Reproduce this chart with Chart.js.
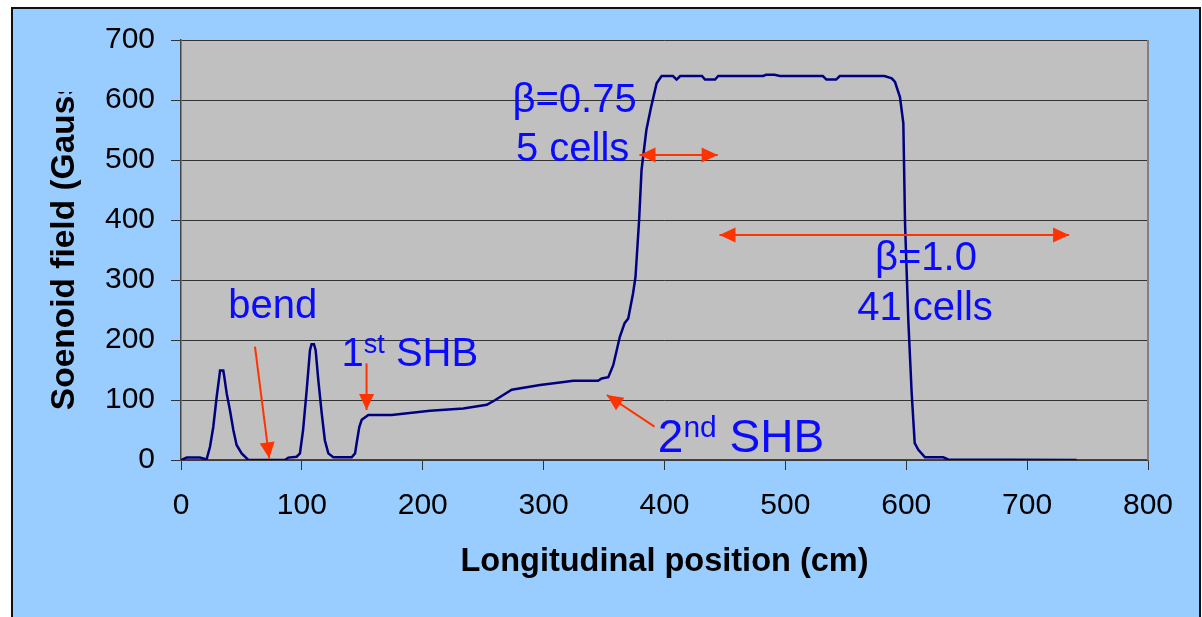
<!DOCTYPE html>
<html>
<head>
<meta charset="utf-8">
<script src="https://cdn.jsdelivr.net/npm/chart.js@4"></script>
<style>
  body { margin: 0; background: #fff; overflow: hidden; }
  #frame {
    position: absolute; left: 11px; top: 7px;
    width: 1186px; height: 620px;
    border: 2px solid #111; border-bottom: none;
    background: #99CCFF;
  }
  #fieldCanvas { position: absolute; left: 0; top: 0; }
</style>
</head>
<body>
<div id="frame"><canvas id="fieldCanvas" width="1186" height="608"></canvas></div>
<script>
// solenoid field along the beam line
const positionCm = [0, 4.7, 15.7, 21.2, 24, 26.7, 29.5, 31.7, 32.3, 35, 35.8, 37.8, 40.5, 43.3, 46, 50.2, 55.7,
    86, 88.8, 95.7, 98.4, 101, 104, 106.7, 108, 110, 111.4, 113.6, 116.4, 119, 121.9, 126, 141.2, 144, 145.3,
    147.5, 149.5, 155, 174.3, 206, 233.5, 253, 260, 273.6, 297, 313.5, 324.5, 345, 348, 353.5, 357.6, 363, 367,
    370, 374, 376, 379, 381, 385, 389, 393.5, 397.6, 407, 410, 413, 431, 433.5, 441.8, 444.5, 481.7, 484, 491,
    495.5, 531, 534, 542, 545, 582, 588, 590.7, 594.8, 597.6, 599, 601.7, 604.5, 607, 610, 615.5, 630.6, 634.7, 741];
const fieldGauss = [0, 4, 4, 1, 22, 55, 105, 139, 149, 149, 139, 111, 83, 50, 25, 11, 0,
    0, 4, 5.5, 11, 50, 117, 183, 193, 193, 183, 133, 78, 33, 11, 4.5, 4.5, 11, 28,
    55, 67, 75, 75, 82, 86, 92, 100, 117, 125, 129, 132, 132, 136, 138, 158, 205, 228,
    236, 278, 305, 400, 483, 550, 589, 628, 640, 640, 634, 640, 640, 634, 634, 640, 640, 642, 642,
    640, 640, 634, 634, 640, 640, 636, 630, 605, 561, 394, 233, 111, 28, 17, 4.5, 4.5, 1, 0];

const xTicks = [0, 100, 200, 300, 400, 500, 600, 700, 800];
const yTicks = [0, 100, 200, 300, 400, 500, 600, 700];

const xTitle = 'Longitudinal position (cm)';
const yTitle = 'Soenoid field (Gauss)';

// annotation texts and arrows, placed in data units
const labels = [
    {parts: [['bend', 40, 0]], x: 76, y: 236.7, align: 'center'},
    {parts: [['1', 40, 0], ['st', 27, 13], [' SHB', 40, 0]], x: 132.8, y: 156.7, align: 'left'},
    {parts: [['2', 46, 0], ['nd', 30, 15], [' SHB', 46, 0]], x: 394.5, y: 13.8, align: 'left'},
    {parts: [['β=0.75', 40, 0]], x: 325.6, y: 580.5, align: 'center'},
    {parts: [['5 cells', 40, 0]], x: 324, y: 498.8, align: 'center'},
    {parts: [['β=1.0', 40, 0]], x: 616.3, y: 316.7, align: 'center'},
    {parts: [['41 cells', 40, 0]], x: 615.5, y: 233.3, align: 'center'}
];
const arrows = [
    {from: [61.2, 188.8], to: [73, 2.8], both: false},
    {from: [153.5, 161], to: [153.5, 83.3], both: false},
    {from: [391.7, 55.5], to: [352.3, 108.3], both: false},
    {from: [444, 508.3], to: [379.3, 508.3], both: true},
    {from: [734.7, 375], to: [445.5, 375], both: true}
];

const FONT = "Arial, 'Liberation Sans', sans-serif";

function arrowHead(ctx, x1, y1, x2, y2) {
    const a = Math.atan2(y2 - y1, x2 - x1);
    const len = 16, half = 7.5;
    ctx.beginPath();
    ctx.moveTo(x2, y2);
    ctx.lineTo(x2 - len * Math.cos(a) + half * Math.sin(a), y2 - len * Math.sin(a) - half * Math.cos(a));
    ctx.lineTo(x2 - len * Math.cos(a) - half * Math.sin(a), y2 - len * Math.sin(a) + half * Math.cos(a));
    ctx.closePath();
    ctx.fill();
}

const plotBackground = {
    id: 'plotBackground',
    beforeDraw(chart) {
        const {ctx, chartArea: a} = chart;
        ctx.save();
        ctx.fillStyle = '#C0C0C0';
        ctx.fillRect(a.left, a.top, a.right - a.left, a.bottom - a.top);
        ctx.restore();
    },
    afterDraw(chart) {
        const {ctx, chartArea: a} = chart;
        ctx.save();
        ctx.strokeStyle = '#808080';
        ctx.lineWidth = 2;
        ctx.beginPath();
        ctx.moveTo(a.right, a.top);
        ctx.lineTo(a.right, a.bottom);
        ctx.stroke();

        // y title, clipped at the top like the original
        ctx.beginPath();
        ctx.rect(0, 83, 200, 600);
        ctx.clip();
        ctx.translate(52, 229);
        ctx.rotate(-Math.PI / 2);
        ctx.font = 'bold 33.5px ' + FONT;
        ctx.fillStyle = '#000';
        ctx.textAlign = 'center';
        ctx.textBaseline = 'middle';
        ctx.fillText(yTitle, 0, 0);
        ctx.restore();
    }
};

const annotations = {
    id: 'annotations',
    afterDatasetsDraw(chart) {
        const {ctx, scales: {x, y}} = chart;
        ctx.save();
        ctx.strokeStyle = '#FF3300';
        ctx.fillStyle = '#FF3300';
        ctx.lineWidth = 2;
        arrows.forEach(ar => {
            const x1 = x.getPixelForValue(ar.from[0]), y1 = y.getPixelForValue(ar.from[1]);
            const x2 = x.getPixelForValue(ar.to[0]), y2 = y.getPixelForValue(ar.to[1]);
            ctx.beginPath();
            ctx.moveTo(x1, y1);
            ctx.lineTo(x2, y2);
            ctx.stroke();
            arrowHead(ctx, x1, y1, x2, y2);
            if (ar.both) arrowHead(ctx, x2, y2, x1, y1);
        });

        ctx.fillStyle = '#0A0AFF';
        ctx.textBaseline = 'alphabetic';
        ctx.textAlign = 'left';
        labels.forEach(lb => {
            let total = 0;
            lb.parts.forEach(p => {
                ctx.font = p[1] + 'px ' + FONT;
                total += ctx.measureText(p[0]).width;
            });
            let px = x.getPixelForValue(lb.x);
            if (lb.align === 'center') px -= total / 2;
            const py = y.getPixelForValue(lb.y);
            lb.parts.forEach(p => {
                ctx.font = p[1] + 'px ' + FONT;
                ctx.fillText(p[0], px, py - p[2]);
                px += ctx.measureText(p[0]).width;
            });
        });
        ctx.restore();
    }
};

new Chart(document.querySelector('#fieldCanvas'), {
    type: 'line',
    data: {
        datasets: [{
            data: positionCm.map((v, i) => ({x: v, y: fieldGauss[i]})),
            borderColor: '#000080',
            borderWidth: 2.5,
            pointRadius: 0,
            tension: 0,
            fill: false
        }]
    },
    options: {
        responsive: false,
        animation: false,
        layout: {padding: {top: 31, right: 51, bottom: 35, left: 0}},
        plugins: {legend: {display: false}, tooltip: {enabled: false}},
        scales: {
            x: {
                type: 'linear',
                min: 0,
                max: 800,
                afterBuildTicks: s => { s.ticks = xTicks.map(v => ({value: v})); },
                afterFit: s => { s.height = 122; },
                ticks: {color: '#000', font: {size: 30, family: FONT}, padding: 18, maxRotation: 0},
                grid: {drawOnChartArea: false, tickLength: 10, color: '#333'},
                border: {color: '#444', width: 1.5},
                title: {display: true, text: xTitle, color: '#000',
                    font: {size: 32.5, weight: 'bold', family: FONT}, padding: 0}
            },
            y: {
                min: 0,
                max: 700,
                afterBuildTicks: s => { s.ticks = yTicks.map(v => ({value: v})); },
                afterFit: s => { s.width = 168; s.paddingTop = 0; s.paddingBottom = 0; },
                ticks: {color: '#000', font: {size: 30, family: FONT}, padding: 16},
                grid: {tickLength: 10, color: '#333'},
                border: {color: '#444', width: 1.5}
            }
        }
    },
    plugins: [plotBackground, annotations]
});
</script>
</body>
</html>
